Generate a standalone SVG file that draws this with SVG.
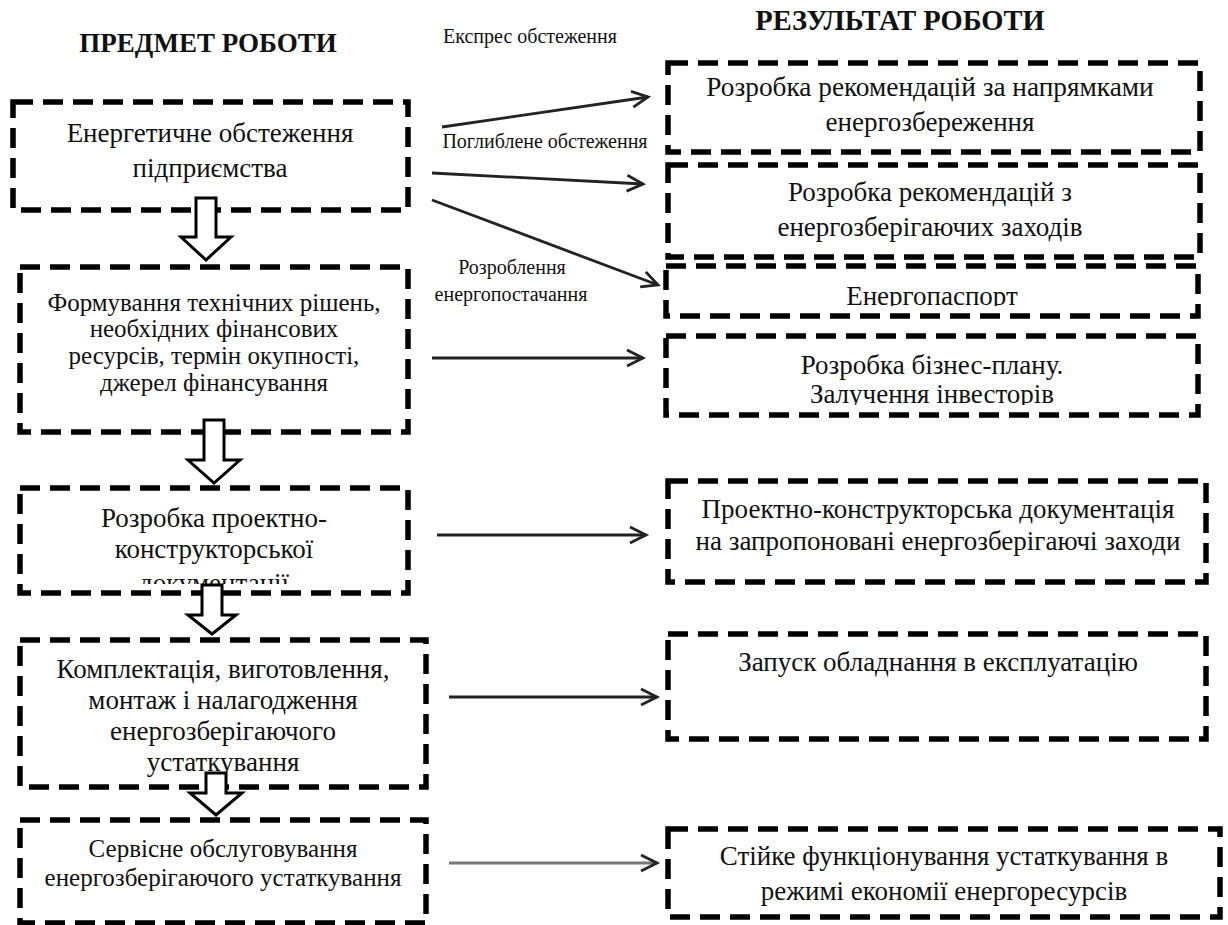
<svg xmlns="http://www.w3.org/2000/svg" width="1228" height="925" viewBox="0 0 1228 925">
<style>
.box{fill:none;stroke:#000;stroke-width:5.5;stroke-dasharray:20 10}
.t{font-family:"Liberation Serif","Times New Roman",serif;font-size:27px;fill:#111;text-anchor:middle}
.s{font-size:20px}
.h{font-weight:bold;font-size:27px}
.conn{stroke:#222;stroke-width:2.8;fill:none;marker-end:url(#ah)}
.blk{fill:#fff;stroke:#000;stroke-width:3}
</style>
<defs>
<marker id="ah" markerUnits="userSpaceOnUse" markerWidth="22" markerHeight="22" refX="18" refY="10" orient="auto">
<path d="M2,2 L18,10 L2,18" fill="none" stroke="#222" stroke-width="2.8"/>
</marker>
<clipPath id="cB3"><rect x="0" y="480" width="430" height="104"/></clipPath>
<clipPath id="cR3"><rect x="660" y="260" width="560" height="46"/></clipPath>
<clipPath id="cR4"><rect x="660" y="330" width="560" height="75"/></clipPath>
</defs>
<rect width="1228" height="925" fill="#fff"/>
<g id="headings">
<text class="t h" x="208" y="52">ПРЕДМЕТ РОБОТИ</text>
<text class="t h" x="900" y="30" style="font-size:28.5px">РЕЗУЛЬТАТ РОБОТИ</text>
</g>
<g id="B1">
<rect class="box" x="13" y="102" width="395" height="108"/>
<text class="t" x="210" y="142">Енергетичне обстеження</text>
<text class="t" x="210" y="177">підприємства</text>
</g>
<g id="B2">
<rect class="box" x="20" y="267" width="388" height="165"/>
<text class="t" x="214" y="311" style="font-size:25px">Формування технічних рішень,</text>
<text class="t" x="214" y="337" style="font-size:25px">необхідних фінансових</text>
<text class="t" x="214" y="364" style="font-size:25px">ресурсів, термін окупності,</text>
<text class="t" x="214" y="391" style="font-size:25px">джерел фінансування</text>
</g>
<g id="B3">
<rect class="box" x="20" y="488" width="388" height="105"/>
<g clip-path="url(#cB3)">
<text class="t" x="214" y="527">Розробка проектно-</text>
<text class="t" x="214" y="558">конструкторської</text>
<text class="t" x="214" y="592">документації</text>
</g>
</g>
<g id="B4">
<rect class="box" x="20" y="640" width="406" height="147"/>
<text class="t" x="223" y="678">Комплектація, виготовлення,</text>
<text class="t" x="223" y="709">монтаж і налагодження</text>
<text class="t" x="223" y="740">енергозберігаючого</text>
<text class="t" x="223" y="771">устаткування</text>
</g>
<g id="B5">
<rect class="box" x="20" y="820" width="406" height="103"/>
<text class="t" x="223" y="857" style="font-size:25px">Сервісне обслуговування</text>
<text class="t" x="223" y="886" style="font-size:25px">енергозберігаючого устаткування</text>
</g>
<g id="R1">
<rect class="box" x="668" y="63" width="532" height="89"/>
<text class="t" x="930" y="96" style="font-size:27.3px">Розробка рекомендацій за напрямками</text>
<text class="t" x="930" y="131">енергозбереження</text>
</g>
<g id="R2">
<rect class="box" x="668" y="165" width="532" height="92"/>
<text class="t" x="930" y="201">Розробка рекомендацій з</text>
<text class="t" x="930" y="236">енергозберігаючих заходів</text>
</g>
<g id="R3">
<rect class="box" x="666" y="266" width="532" height="50"/>
<text class="t" x="932" y="305" clip-path="url(#cR3)">Енергопаспорт</text>
</g>
<g id="R4">
<rect class="box" x="666" y="336" width="532" height="79"/>
<g clip-path="url(#cR4)">
<text class="t" x="932" y="374">Розробка бізнес-плану.</text>
<text class="t" x="932" y="403">Залучення інвесторів</text>
</g>
</g>
<g id="R5">
<rect class="box" x="668" y="481" width="538" height="101"/>
<text class="t" x="938" y="518">Проектно-конструкторська документація</text>
<text class="t" x="938" y="550">на запропоновані енергозберігаючі заходи</text>
</g>
<g id="R6">
<rect class="box" x="668" y="634" width="538" height="105"/>
<text class="t" x="938" y="671">Запуск обладнання в експлуатацію</text>
</g>
<g id="R7">
<rect class="box" x="668" y="829" width="552" height="88"/>
<text class="t" x="944" y="865">Стійке функціонування устаткування в</text>
<text class="t" x="944" y="900">режимі економії енергоресурсів</text>
</g>
<g id="connectors">
<path class="blk" d="M196,198 H216 V237 H231 L206,260 L181,237 H196 Z"/>
<path class="blk" d="M204,420 H224 V460 H240 L214,483 L188,460 H204 Z"/>
<path class="blk" d="M202,585 H222 V615 H236 L212,634 L188,615 H202 Z"/>
<path class="blk" d="M206,773 H226 V793 H242 L216,815 L190,793 H206 Z"/>
<line class="conn" x1="442" y1="127" x2="648" y2="97"/>
<line class="conn" x1="432" y1="173" x2="643" y2="184"/>
<line class="conn" x1="432" y1="200" x2="658" y2="285"/>
<line class="conn" x1="432" y1="358" x2="643" y2="358"/>
<line class="conn" x1="437" y1="535" x2="646" y2="535"/>
<line class="conn" x1="449" y1="697" x2="657" y2="697"/>
<line class="conn" x1="449" y1="863" x2="657" y2="863" style="stroke:#777"/>
<text class="t s" x="530" y="43">Експрес обстеження</text>
<text class="t s" x="545" y="148">Поглиблене обстеження</text>
<text class="t s" x="512" y="274">Розроблення</text>
<text class="t s" x="511" y="301">енергопостачання</text>
</g>
</svg>
